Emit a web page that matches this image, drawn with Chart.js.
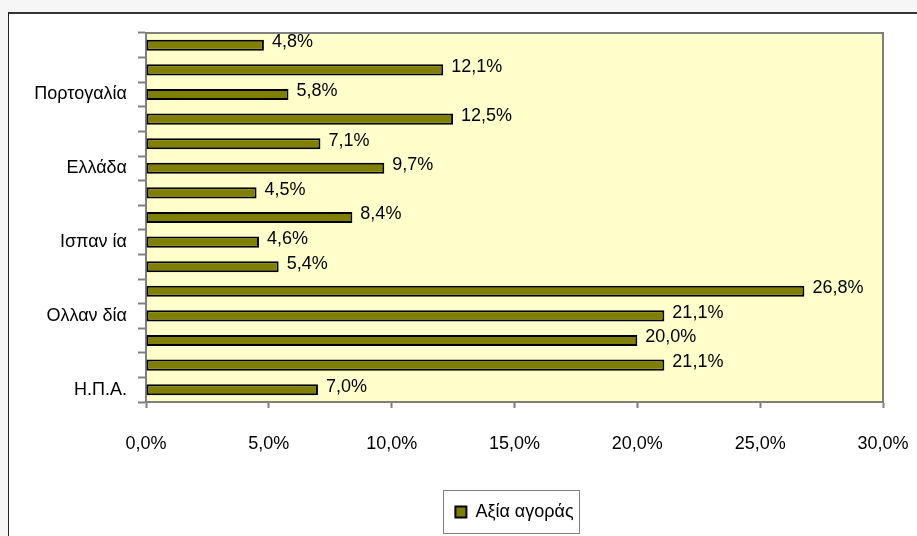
<!DOCTYPE html>
<html>
<head>
<meta charset="utf-8">
<script src="https://cdn.jsdelivr.net/npm/chart.js@4"></script>
<style>
  html, body { margin: 0; padding: 0; }
  body { width: 917px; height: 536px; background: #f6f6f6; position: relative; overflow: hidden; }
  #frame {
    position: absolute; left: 8px; top: 12px; width: 1000px; height: 1000px;
    background: #fff; border-left: 1px solid #222; border-top: 2px solid #333;
  }
  #shareChart { position: absolute; left: 0; top: 0; }
</style>
</head>
<body>
<div id="frame"></div>
<canvas id="shareChart" width="917" height="536"></canvas>
<script>
// categories top to bottom; only every third one carries a name
const categories = ["", "", "Πορτογαλία", "", "", "Ελλάδα", "", "", "Ισπαν ία", "", "", "Ολλαν δία", "", "", "Η.Π.Α."];
const marketValue = [4.8, 12.1, 5.8, 12.5, 7.1, 9.7, 4.5, 8.4, 4.6, 5.4, 26.8, 21.1, 20.0, 21.1, 7.0];
const seriesName = "Αξία αγοράς";
const xTicks = [0, 5, 10, 15, 20, 25, 30];

const FONT = "'Liberation Sans', Arial, sans-serif";
Chart.defaults.font.family = FONT;
Chart.defaults.font.size = 18;
Chart.defaults.color = "#000";

function pct(v) {
  return v.toFixed(1).replace(".", ",") + "%";
}

// pale yellow plot area with grey top/right edges
const plotArea = {
  id: "plotArea",
  beforeDraw(chart) {
    const { ctx, chartArea: a } = chart;
    ctx.save();
    ctx.fillStyle = "#ffffcc";
    ctx.fillRect(a.left, a.top, a.right - a.left, a.bottom - a.top);
    ctx.strokeStyle = "#808080";
    ctx.lineWidth = 2;
    ctx.beginPath();
    ctx.moveTo(a.left, a.top);
    ctx.lineTo(a.right, a.top);
    ctx.lineTo(a.right, a.bottom);
    ctx.stroke();
    ctx.restore();
  }
};

// value labels at the end of each bar
const barValues = {
  id: "barValues",
  afterDatasetsDraw(chart) {
    const { ctx } = chart;
    const meta = chart.getDatasetMeta(0);
    ctx.save();
    ctx.font = "18px " + FONT;
    ctx.fillStyle = "#000";
    ctx.textAlign = "left";
    ctx.textBaseline = "middle";
    meta.data.forEach((bar, i) => {
      ctx.fillText(pct(marketValue[i]), bar.x + 8, bar.y - 3);
    });
    ctx.restore();
  }
};

// legend centred under the plot area, with a frame round it
const legendBox = {
  id: "legendBox",
  afterLayout(chart) {
    const lg = chart.legend;
    const a = chart.chartArea;
    const dx = (a.left + a.right) / 2 - (lg.left + lg.right) / 2;
    lg.left += dx;
    lg.right += dx;
  },
  afterDraw(chart) {
    const hb = chart.legend.legendHitBoxes[0];
    if (!hb) return;
    const { ctx } = chart;
    const cy = hb.top + hb.height / 2;
    ctx.save();
    ctx.strokeStyle = "#808080";
    ctx.lineWidth = 1;
    ctx.strokeRect(Math.round(hb.left - 12) + 0.5, Math.round(cy - 22) + 0.5,
      Math.round(hb.width + 18), 43);
    ctx.restore();
  }
};

new Chart(document.getElementById("shareChart"), {
  type: "bar",
  data: {
    labels: categories,
    datasets: [{
      label: seriesName,
      data: marketValue,
      backgroundColor: "#808000",
      borderColor: "#000",
      borderWidth: 2,
      borderSkipped: false,
      categoryPercentage: 1,
      barPercentage: 0.45
    }]
  },
  options: {
    indexAxis: "y",
    responsive: false,
    animation: false,
    layout: { padding: { left: 30, right: 34, top: 33, bottom: 5 } },
    plugins: {
      legend: {
        position: "bottom",
        labels: { boxWidth: 11, boxHeight: 11, padding: 10, font: { size: 18 } }
      },
      tooltip: { enabled: false }
    },
    scales: {
      x: {
        min: 0,
        max: 30,
        afterBuildTicks(scale) {
          scale.ticks = xTicks.map(v => ({ value: v }));
        },
        afterFit(scale) {
          scale.height = 91;
          scale.paddingLeft = 0;
          scale.paddingRight = 0;
        },
        ticks: { callback: v => pct(v), padding: 25, maxRotation: 0 },
        grid: { drawOnChartArea: false, tickLength: 6, color: "#808080", tickWidth: 2 },
        border: { color: "#808080", width: 2 }
      },
      y: {
        afterFit(scale) { scale.width = 116; },
        ticks: { autoSkip: false, padding: 11 },
        grid: { offset: true, drawOnChartArea: false, tickLength: 8, color: "#808080", tickWidth: 2 },
        border: { color: "#808080", width: 2 }
      }
    }
  },
  plugins: [plotArea, barValues, legendBox]
});
</script>
</body>
</html>
